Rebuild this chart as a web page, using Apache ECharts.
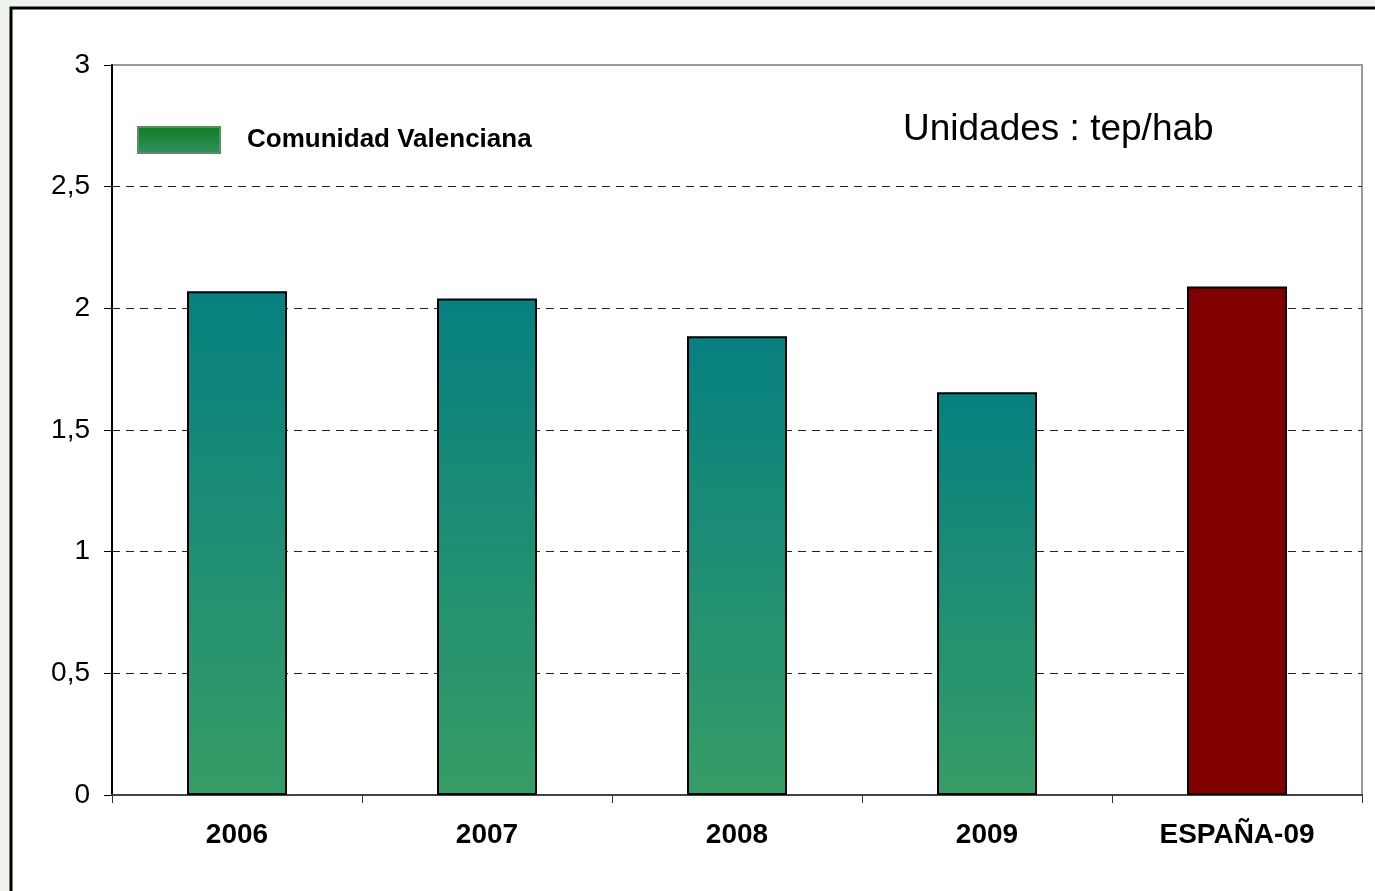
<!DOCTYPE html>
<html>
<head>
<meta charset="utf-8">
<script src="https://cdn.jsdelivr.net/npm/echarts@6/dist/echarts.min.js"></script>
<style>
html,body{margin:0;padding:0;background:#eef3ec;}
#c{width:1375px;height:891px;}
</style>
</head>
<body>
<div id="c"></div>
<script>
const categories = ['2006', '2007', '2008', '2009', 'ESPAÑA-09'];
const values = [2.07, 2.04, 1.885, 1.655, 2.09];
const seriesName = 'Comunidad Valenciana';
const unitsLabel = 'Unidades : tep/hab';
const yTicks = { min: 0, max: 3, interval: 0.5 };

const chart = echarts.init(document.getElementById('c'), null, { renderer: 'canvas' });
const FONT = '"Liberation Sans", Arial, sans-serif';
const greenGrad = new echarts.graphic.LinearGradient(0, 0, 0, 1, [
  { offset: 0, color: '#068080' },
  { offset: 1, color: '#379d67' }
]);
const legendGrad = new echarts.graphic.LinearGradient(0, 0, 0, 1, [
  { offset: 0, color: '#127a22' },
  { offset: 1, color: '#2f9462' }
]);

chart.setOption({
  backgroundColor: '#eef3ec',
  animation: false,
  graphic: [
    { type: 'rect', z: -10, shape: { x: 11, y: 8, width: 1400, height: 900 },
      style: { fill: '#ffffff', stroke: '#000000', lineWidth: 3 } },
    { type: 'text', left: 903, top: 111, z: 10,
      style: { text: unitsLabel, font: '37px ' + FONT, fill: '#000' } }
  ],
  grid: { left: 112, top: 65, right: 13, bottom: 96, show: true, borderColor: '#999999', borderWidth: 2, backgroundColor: 'transparent' },
  legend: {
    left: 132, top: 121, itemWidth: 82, itemHeight: 26,
    data: [{ name: seriesName, icon: 'rect', itemStyle: { color: legendGrad, borderColor: '#5c8f5c', borderWidth: 2 } }],
    textStyle: { fontFamily: FONT, fontWeight: 'bold', fontSize: 26, color: '#000', padding: [4, 0, 0, 22] }
  },
  xAxis: {
    type: 'category', data: categories,
    axisLine: { lineStyle: { color: '#444', width: 2 } },
    axisTick: { show: true, length: 8, lineStyle: { color: '#333', width: 1 } },
    axisLabel: { fontFamily: FONT, fontWeight: 'bold', fontSize: 28, color: '#000', margin: 26 }
  },
  yAxis: {
    type: 'value', min: yTicks.min, max: yTicks.max, interval: yTicks.interval,
    axisLine: { show: true, lineStyle: { color: '#000', width: 2 } },
    axisTick: { show: true, length: 8, lineStyle: { color: '#000', width: 1 } },
    axisLabel: { fontFamily: FONT, fontSize: 28, color: '#000', margin: 22,
      formatter: v => String(v).replace('.', ',') },
    splitLine: { show: true, showMaxLine: false, lineStyle: { color: '#222', type: [8, 6], width: 1 } }
  },
  series: [{
    name: seriesName, type: 'bar', barWidth: '40%',
    itemStyle: { color: greenGrad, borderColor: '#000', borderWidth: 2 },
    data: values.map((v, i) => i === values.length - 1
      ? { value: v, itemStyle: { color: '#800000', borderColor: '#000', borderWidth: 2 } }
      : v)
  }]
});
</script>
</body>
</html>
